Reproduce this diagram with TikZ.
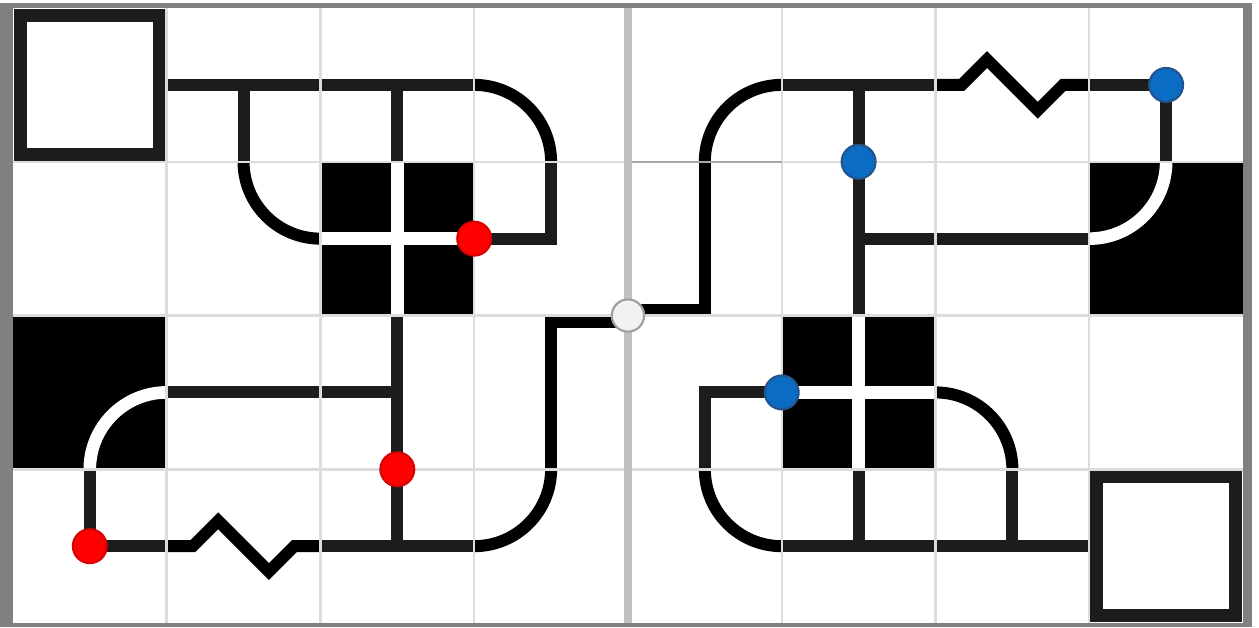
\documentclass[tikz,border=0pt]{standalone}
\definecolor{framegray}{HTML}{808080}
\definecolor{gridgray}{HTML}{DCDCDC}
\definecolor{seamgray}{HTML}{C0C0C0}
\definecolor{bluefill}{HTML}{0A6CC2}
\definecolor{blueedge}{HTML}{24548F}
\begin{document}
\begin{tikzpicture}[x=1cm, y=1cm,
  pipe/.style={line width=0.078cm, draw=black!89},
  curvepipe/.style={line width=0.078cm, draw=black},
  hole/.style={line width=0.082cm, draw=white},
  endbox/.style={line width=0.084cm, draw=black!89},
  gridline/.style={line width=0.45pt, draw=gridgray},
  dot/.style={circle, inner sep=0pt, minimum size=0.22cm, line width=0.4pt},
  reddot/.style={dot, fill=red, draw=red!85!black},
  bluedot/.style={dot, fill=bluefill, draw=blueedge},
  hubdot/.style={dot, fill=gray!10, draw=gray!75, minimum size=0.21cm}]
  \useasboundingbox (-0.084,-0.026) rectangle (8.104,4.052);
  % Frame
  \fill[framegray] (-0.084,-0.026) rectangle (8.058,4.032);
  \fill[white] (0,0) rectangle (8,4);
  % Inverted tiles
  \fill[black] (2,2) rectangle (3,3);
  \fill[black] (5,1) rectangle (6,2);
  \fill[black] (7,2) rectangle (8,3);
  \fill[black] (0,1) rectangle (1,2);
  \draw[hole] (2,2.5) -- (3,2.5) (2.5,2) -- (2.5,3);
  \draw[hole] (5,1.5) -- (6,1.5) (5.5,1) -- (5.5,2);
  \draw[hole] (7,2.5) arc[start angle=270, end angle=360, radius=0.5];
  \draw[hole] (1,1.5) arc[start angle=90, end angle=180, radius=0.5];
  % End boxes
  \draw[endbox] (0.049,3.049) rectangle (0.951,3.951);
  \draw[endbox] (7.049,0.049) rectangle (7.951,0.951);
  % Top row
  \draw[pipe] (1,3.5) -- (2,3.5) (1.5,3.5) -- (1.5,3);
  \draw[pipe] (2,3.5) -- (3,3.5) (2.5,3.5) -- (2.5,3);
  \draw[curvepipe] (3,3.5) arc[start angle=90, end angle=0, radius=0.5];
  \draw[curvepipe] (5,3.5) arc[start angle=90, end angle=180, radius=0.5];
  \draw[pipe] (5,3.5) -- (6,3.5) (5.5,3.5) -- (5.5,3);
  \draw[curvepipe] (6,3.5) -- (6.17,3.5) -- (6.335,3.665) -- (6.665,3.335) -- (6.83,3.5) -- (7,3.5);
  \draw[pipe] (7,3.5) -- (7.5,3.5) -- (7.5,3);
  % Second row
  \draw[curvepipe] (1.5,3) arc[start angle=180, end angle=270, radius=0.5];
  \draw[pipe] (3,2.5) -- (3.5,2.5) -- (3.5,3);
  \draw[curvepipe] (4,2.039) -- (4.5,2.039) -- (4.5,3);
  \draw[pipe] (5.5,3) -- (5.5,2) (5.5,2.5) -- (6,2.5);
  \draw[pipe] (6,2.5) -- (7,2.5);
  % Third row
  \draw[pipe] (1,1.5) -- (2,1.5);
  \draw[pipe] (2.5,2) -- (2.5,1) (2,1.5) -- (2.5,1.5);
  \draw[curvepipe] (4,1.961) -- (3.5,1.961) -- (3.5,1);
  \draw[pipe] (5,1.5) -- (4.5,1.5) -- (4.5,1);
  \draw[curvepipe] (6,1.5) arc[start angle=90, end angle=0, radius=0.5];
  % Bottom row
  \draw[pipe] (0.5,1) -- (0.5,0.5) -- (1,0.5);
  \draw[curvepipe] (1,0.5) -- (1.17,0.5) -- (1.335,0.665) -- (1.665,0.335) -- (1.83,0.5) -- (2,0.5);
  \draw[pipe] (2,0.5) -- (3,0.5) (2.5,0.5) -- (2.5,1);
  \draw[curvepipe] (3,0.5) arc[start angle=270, end angle=360, radius=0.5];
  \draw[curvepipe] (4.5,1) arc[start angle=180, end angle=270, radius=0.5];
  \draw[pipe] (5,0.5) -- (6,0.5) (5.5,0.5) -- (5.5,1);
  \draw[pipe] (6,0.5) -- (7,0.5) (6.5,0.5) -- (6.5,1);
  % Grid
  \foreach \x in {1,...,7} \draw[gridline] (\x,0) -- (\x,4);
  \foreach \y in {1,2,3} \draw[gridline] (0,\y) -- (8,\y);
  \draw[gray!70, line width=0.35pt] (4,3) -- (5,3);
  % Seam
  \draw[seamgray, line width=1.5pt] (4,0) -- (4,4);
  % Dots
  \node[reddot] (red1) at (3,2.5) {};
  \node[reddot] (red2) at (2.5,1) {};
  \node[reddot] (red3) at (0.5,0.5) {};
  \node[bluedot] (blue1) at (5.5,3) {};
  \node[bluedot] (blue2) at (7.5,3.5) {};
  \node[bluedot] (blue3) at (5,1.5) {};
  \node[hubdot] (hub) at (4,2) {};
\end{tikzpicture}
\end{document}
